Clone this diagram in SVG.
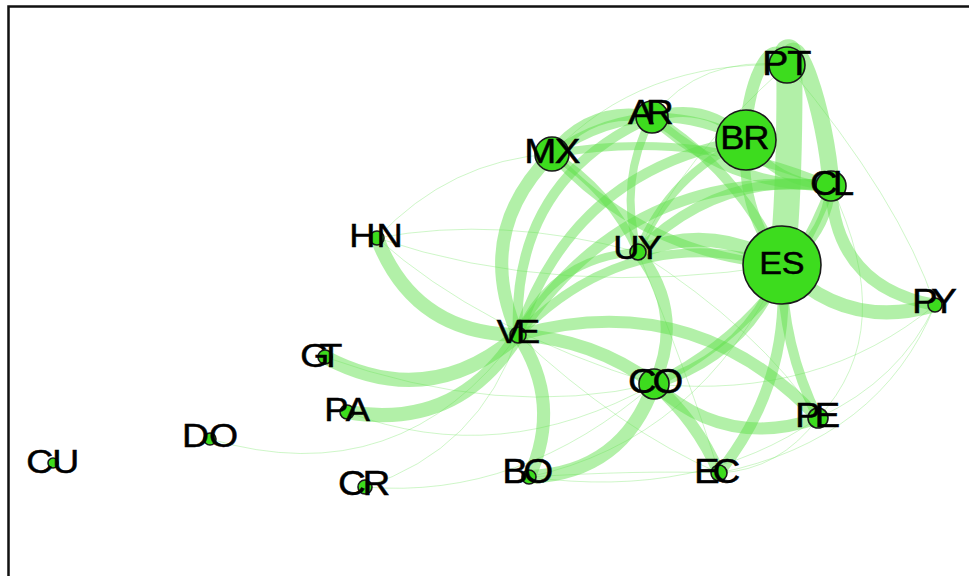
<svg xmlns="http://www.w3.org/2000/svg" width="969" height="576" viewBox="0 0 969 576">
<style>
.e{fill:none;stroke:#5ee04a;stroke-opacity:0.48;stroke-linecap:butt}
.t{fill:none;stroke:#5ee04a;stroke-opacity:0.3;stroke-width:1}
.n{fill:#3ddc1e;stroke:#1a1a1a;stroke-width:1.6}
.l{font-family:"Liberation Sans",Arial,sans-serif;fill:#000;stroke:#000;stroke-width:0.5}
</style>
<rect x="0" y="0" width="969" height="576" fill="#fff"/>
<rect x="8.5" y="6.5" width="1000" height="1000" fill="none" stroke="#111" stroke-width="2.5"/>
<g id="connectors">
<path class="t" d="M377,238 Q450,160 552,154"/>
<path class="t" d="M377,238 Q500,215 638,252"/>
<path class="t" d="M377,238 Q560,300 782,265"/>
<path class="t" d="M377,238 Q480,330 654,384"/>
<path class="t" d="M210,439 Q400,495 518,335"/>
<path class="t" d="M365,487 Q480,450 518,335"/>
<path class="t" d="M365,487 Q520,500 654,384"/>
<path class="t" d="M347,412 Q500,470 654,384"/>
<path class="t" d="M325,357 Q500,420 654,384"/>
<path class="t" d="M529,477 Q700,440 782,265"/>
<path class="t" d="M529,477 Q700,500 818,418"/>
<path class="t" d="M719,473 Q780,470 818,418"/>
<path class="t" d="M719,473 Q880,440 935,305"/>
<path class="t" d="M818,418 Q900,380 935,305"/>
<path class="t" d="M654,384 Q820,400 935,305"/>
<path class="t" d="M638,252 Q690,380 719,473"/>
<path class="t" d="M638,252 Q760,330 818,418"/>
<path class="t" d="M787,65 Q700,55 652,117"/>
<path class="t" d="M787,65 Q640,60 552,154"/>
<path class="t" d="M787,65 Q680,160 638,252"/>
<path class="t" d="M518,335 Q620,430 719,473"/>
<path class="t" d="M529,477 Q640,470 719,473"/>
<path class="t" d="M787,65 Q900,200 935,305"/>
<path class="t" d="M831,186 Q900,330 818,418"/>
<path class="e" stroke-width="14" d="M377,238 Q414,334 518,335"/>
<path class="e" stroke-width="14" d="M325,357 Q429,412 518,335"/>
<path class="e" stroke-width="14" d="M347,412 Q458,431 518,335"/>
<path class="e" stroke-width="13" d="M518,335 Q563,403 529,477"/>
<path class="e" stroke-width="14" d="M529,477 Q623,473 654,384"/>
<path class="e" stroke-width="13" d="M518,335 Q473,233 552,154"/>
<path class="e" stroke-width="10" d="M518,335 Q511,180 652,117"/>
<path class="e" stroke-width="10" d="M518,335 Q573,169 746,140"/>
<path class="e" stroke-width="11" d="M518,335 Q630,166 831,186"/>
<path class="e" stroke-width="9" d="M518,335 Q629,221 782,265"/>
<path class="e" stroke-width="8" d="M518,335 Q553,257 638,252"/>
<path class="e" stroke-width="13" d="M518,335 Q593,339 654,384"/>
<path class="e" stroke-width="12" d="M518,335 Q693,286 818,418"/>
<path class="e" stroke-width="12" d="M654,384 Q686,313 638,252"/>
<path class="e" stroke-width="12" d="M654,384 Q697,421 719,473"/>
<path class="e" stroke-width="12" d="M654,384 Q726,450 818,418"/>
<path class="e" stroke-width="11" d="M719,473 Q792,382 782,265"/>
<path class="e" stroke-width="14" d="M782,265 Q846,331 935,305"/>
<path class="e" stroke-width="12" d="M831,186 Q835,287 935,305"/>
<path class="e" stroke-width="14" d="M638,252 Q713,222 782,265"/>
<path class="e" stroke-width="26" d="M787,65 C790,5 792,170 782,265"/>
<path class="e" stroke-width="17" d="M787,65 C793,15 826,110 831,186"/>
<path class="e" stroke-width="12" d="M787,65 C772,25 744,90 746,140"/>
<path class="e" stroke-width="12" d="M552,154 Q591,105 652,117"/>
<path class="e" stroke-width="10" d="M652,117 Q706,100 746,140"/>
<path class="e" stroke-width="9" d="M552,154 Q645,89 746,140"/>
<path class="e" stroke-width="10" d="M652,117 Q727,187 831,186"/>
<path class="e" stroke-width="10" d="M652,117 Q739,171 782,265"/>
<path class="e" stroke-width="9" d="M552,154 Q645,255 782,265"/>
<path class="e" stroke-width="8" d="M552,154 Q610,190 638,252"/>
<path class="e" stroke-width="8" d="M652,117 Q618,181 638,252"/>
<path class="e" stroke-width="10" d="M638,252 Q718,171 831,186"/>
<path class="e" stroke-width="10" d="M746,140 Q739,209 782,265"/>
<path class="e" stroke-width="10" d="M831,186 Q826,237 782,265"/>
<path class="e" stroke-width="8" d="M746,140 Q777,184 831,186"/>
<path class="e" stroke-width="8" d="M638,252 Q670,174 746,140"/>
<path class="e" stroke-width="10" d="M654,384 Q748,356 782,265"/>
<path class="e" stroke-width="9" d="M654,384 Q782,320 831,186"/>
<path class="e" stroke-width="10" d="M782,265 Q782,345 818,418"/>
<path class="e" stroke-width="8" d="M552,154 Q696,128 831,186"/>
</g>
<g id="node-PT"><circle class="n" cx="787" cy="65" r="18"/><text class="l" font-size="36" transform="matrix(1.1 0 0 1 -78.7 0)" x="764.2 787.2" y="75">PT</text></g>
<g id="node-AR"><circle class="n" cx="652" cy="117" r="16"/><text class="l" font-size="35" transform="matrix(1.1 0 0 1 -65.2 0)" x="630.2 646.6" y="124">AR</text></g>
<g id="node-MX"><circle class="n" cx="552" cy="154" r="17"/><text class="l" font-size="35" transform="matrix(1.1 0 0 1 -55.2 0)" x="526.7 554.5" y="163">MX</text></g>
<g id="node-BR"><circle class="n" cx="746" cy="140" r="30"/><text class="l" font-size="33" transform="matrix(1.1 0 0 1 -74.6 0)" x="722.7 743.4" y="149">BR</text></g>
<g id="node-CL"><circle class="n" cx="831" cy="186" r="15"/><text class="l" font-size="35" transform="matrix(1.1 0 0 1 -83.1 0)" x="812 832.7" y="195">CL</text></g>
<g id="node-UY"><circle class="n" cx="638" cy="252" r="8"/><text class="l" font-size="33" transform="matrix(1.1 0 0 1 -63.8 0)" x="615.4 637.8" y="259">UY</text></g>
<g id="node-ES"><circle class="n" cx="782" cy="265" r="39"/><text class="l" font-size="31" transform="matrix(1.1 0 0 1 -78.2 0)" x="761.3 781.7" y="274">ES</text></g>
<g id="node-PY"><circle class="n" cx="935" cy="305" r="7"/><text class="l" font-size="35" transform="matrix(1.1 0 0 1 -93.5 0)" x="914.1 931.7" y="313">PY</text></g>
<g id="node-HN"><circle class="n" cx="377" cy="238" r="7"/><text class="l" font-size="33" transform="matrix(1.1 0 0 1 -37.7 0)" x="351.7 376.6" y="247">HN</text></g>
<g id="node-VE"><circle class="n" cx="518" cy="335" r="8"/><text class="l" font-size="33" transform="matrix(1.1 0 0 1 -51.8 0)" x="498.7 516.3" y="343">VE</text></g>
<g id="node-GT"><circle class="n" cx="325" cy="357" r="7"/><text class="l" font-size="34" transform="matrix(1.1 0 0 1 -32.5 0)" x="302.4 320" y="367">GT</text></g>
<g id="node-PA"><circle class="n" cx="347" cy="412" r="7"/><text class="l" font-size="33" transform="matrix(1.1 0 0 1 -34.7 0)" x="326.3 345.9" y="421">PA</text></g>
<g id="node-CR"><circle class="n" cx="365" cy="487" r="7"/><text class="l" font-size="35" transform="matrix(1.1 0 0 1 -36.5 0)" x="340.5 362.7" y="495">CR</text></g>
<g id="node-DO"><circle class="n" cx="210" cy="439" r="6"/><text class="l" font-size="34" transform="matrix(1.1 0 0 1 -21 0)" x="184.6 209.1" y="447">DO</text></g>
<g id="node-CU"><circle class="n" cx="53" cy="463" r="5"/><text class="l" font-size="34" transform="matrix(1.1 0 0 1 -5.3 0)" x="28.6 52.4" y="473">CU</text></g>
<g id="node-BO"><circle class="n" cx="529" cy="477" r="7"/><text class="l" font-size="35" transform="matrix(1.1 0 0 1 -52.9 0)" x="504.6 523.7" y="483">BO</text></g>
<g id="node-EC"><circle class="n" cx="719" cy="473" r="8"/><text class="l" font-size="35" transform="matrix(1.1 0 0 1 -71.9 0)" x="696.2 713.2" y="483">EC</text></g>
<g id="node-CO"><circle class="n" cx="654" cy="384" r="15"/><text class="l" font-size="36" transform="matrix(1.1 0 0 1 -65.4 0)" x="630.4 652.6" y="393">CO</text></g>
<g id="node-PE"><circle class="n" cx="818" cy="418" r="10"/><text class="l" font-size="35" transform="matrix(1.1 0 0 1 -81.8 0)" x="797.1 814.9" y="427">PE</text></g>
</svg>
